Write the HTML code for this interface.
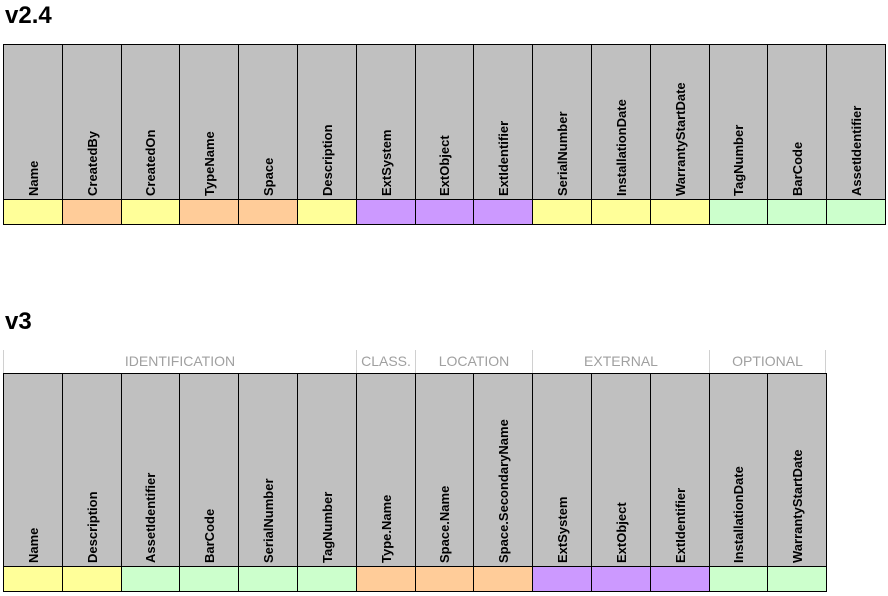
<!DOCTYPE html>
<html><head><meta charset="utf-8"><style>
body{margin:0;width:888px;height:596px;background:#fff;position:relative;overflow:hidden;font-family:"Liberation Sans",Arial,sans-serif}
.t{position:absolute;font-weight:bold;font-size:24px;left:5px}
.c{position:absolute;box-sizing:border-box;border:1px solid #000;background:#c0c0c0}
.h{position:absolute;white-space:nowrap;font-weight:bold;font-size:13px;transform-origin:0 0;transform:rotate(-90deg);line-height:15px}
.g{position:absolute;top:350px;height:23px;box-sizing:border-box;border-left:1px solid #d0d0d0;color:#a0a0a0;font-size:14px;text-align:center;line-height:23px}
</style></head><body>
<div class="t" style="top:2px">v2.4</div>
<div class="t" style="top:308px">v3</div>
<div id="root"></div>
<script>
const cols1=["Name","CreatedBy","CreatedOn","TypeName","Space","Description","ExtSystem","ExtObject","ExtIdentifier","SerialNumber","InstallationDate","WarrantyStartDate","TagNumber","BarCode","AssetIdentifier"];
const colors1=["y","o","y","o","o","y","p","p","p","y","y","y","g","g","g"];
const cols2=["Name","Description","AssetIdentifier","BarCode","SerialNumber","TagNumber","Type.Name","Space.Name","Space.SecondaryName","ExtSystem","ExtObject","ExtIdentifier","InstallationDate","WarrantyStartDate"];
const colors2=["y","y","g","g","g","g","o","o","o","p","p","p","g","g"];
const groups=["IDENTIFICATION","CLASS.","LOCATION","EXTERNAL","OPTIONAL"];
const groupSpans=[6,1,2,3,2];
const pal={y:"#ffff99",o:"#ffcc99",p:"#cc99ff",g:"#ccffcc"};
const X0=3,W=58.8;
const root=document.getElementById('root');
function table(cols,colors,top,hb,bot,prefix){
  cols.forEach((c,i)=>{
    const x=Math.round(X0+i*W),x2=Math.round(X0+(i+1)*W);
    const h=document.createElement('div');h.className='c';
    
    
    h.style.cssText=`left:${x}px;top:${top}px;width:${x2-x+1}px;height:${hb-top+1}px`;
    const s=document.createElement('span');s.className='h';s.textContent=c;
    
    
    s.style.left=((x2-x)/2-8)+'px';s.style.top=(hb-top-4)+'px';
    h.appendChild(s);root.appendChild(h);
    const d=document.createElement('div');d.className='c';
    
    
    d.style.cssText=`left:${x}px;top:${hb}px;width:${x2-x+1}px;height:${bot-hb+1}px;background:${pal[colors[i]]}`;
    root.appendChild(d);
  });
}
table(cols1,colors1,44,199,224,'v24');
table(cols2,colors2,373,566,591,'v3');
let ci=0;
groups.forEach((g,i)=>{
  const x=Math.round(X0+ci*W),x2=Math.round(X0+(ci+groupSpans[i])*W);
  const d=document.createElement('div');d.className='g';d.textContent=g;
  
  
  d.style.left=x+'px';d.style.width=(x2-x)+'px';
  if(i==groups.length-1)d.style.borderRight='1px solid #d0d0d0';
  root.appendChild(d);ci+=groupSpans[i];
});
</script>
</body></html>
